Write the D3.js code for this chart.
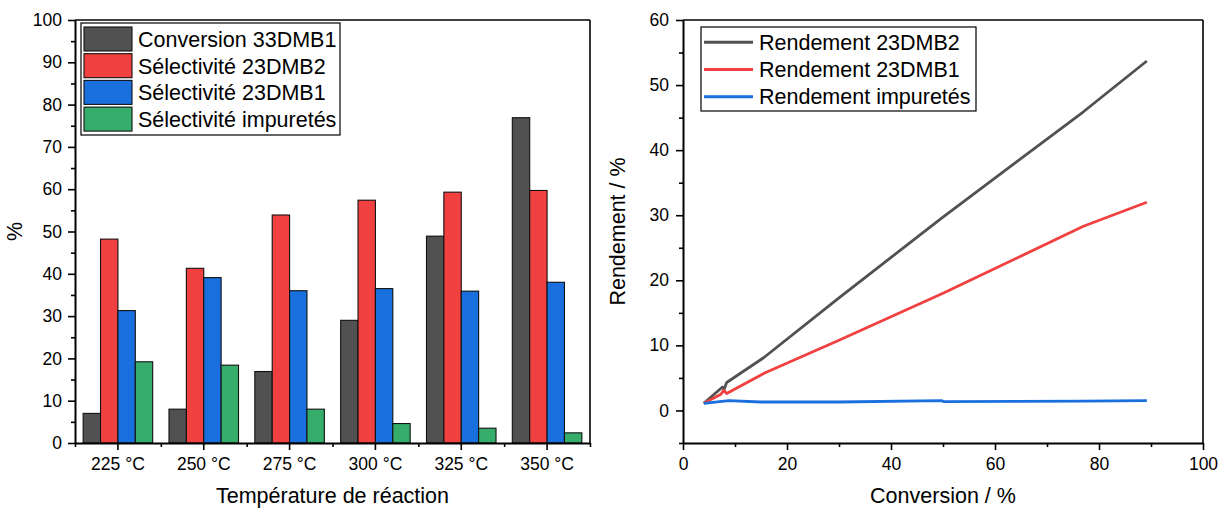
<!DOCTYPE html>
<html>
<head>
<meta charset="utf-8">
<script src="https://cdn.jsdelivr.net/npm/d3@7"></script>
<style>
  html, body { margin: 0; padding: 0; background: #fff; }
  svg { display: block; font-family: "Liberation Sans", Arial, sans-serif; }
</style>
</head>
<body>
<svg id="chart" width="1220" height="508"></svg>
<script>
// ---------- DATA ----------
const categories = ["225 °C", "250 °C", "275 °C", "300 °C", "325 °C", "350 °C"];
const barSeriesNames = ["Conversion 33DMB1", "Sélectivité 23DMB2", "Sélectivité 23DMB1", "Sélectivité impuretés"];
const conversion33DMB1 = [7.0, 8.0, 16.9, 29.0, 48.9, 76.9];
const selectivite23DMB2 = [48.2, 41.3, 53.9, 57.4, 59.3, 59.7];
const selectivite23DMB1 = [31.3, 39.1, 36.0, 36.5, 35.9, 38.0];
const selectiviteImpuretes = [19.2, 18.4, 8.0, 4.6, 3.5, 2.4];
const leftYTicks = [0, 10, 20, 30, 40, 50, 60, 70, 80, 90, 100];

const lineSeriesNames = ["Rendement 23DMB2", "Rendement 23DMB1", "Rendement impuretés"];
const rendement23DMB2 = [[4.0, 1.1], [7.6, 3.6], [7.9, 3.2], [8.4, 4.3], [15.5, 8.1], [30.0, 17.3], [49.8, 29.6], [77.0, 45.9], [89.2, 53.7]];
const rendement23DMB1 = [[4.0, 1.1], [7.3, 2.5], [7.8, 3.1], [8.4, 2.6], [15.8, 5.8], [30.0, 10.8], [50.0, 18.0], [77.0, 28.3], [89.2, 32.0]];
const rendementImpuretes = [[4.0, 1.1], [8.8, 1.5], [15.0, 1.3], [30.0, 1.3], [49.8, 1.5], [50.2, 1.35], [77.0, 1.45], [89.2, 1.5]];
const rightXTicks = [0, 20, 40, 60, 80, 100];
const rightYTicks = [0, 10, 20, 30, 40, 50, 60];

const colors = ["#515151", "#F14040", "#1A6FDF", "#37AD6B"];

// ---------- SETUP ----------
const svg = d3.select("#chart");
const FONT_TICK = 17.5, FONT_TITLE = 21.5;
const yTop = 20, yBottom = 443;

function styleAxis(g) {
  g.select(".domain").attr("stroke", "#000").attr("stroke-width", 2);
  g.selectAll(".tick line").attr("stroke", "#000").attr("stroke-width", 1.6);
  g.selectAll(".tick text").attr("font-size", FONT_TICK).attr("fill", "#000")
    .attr("font-family", "'Liberation Sans', Arial, sans-serif");
}

// ---------- LEFT CHART ----------
const L = { left: 75, right: 590 };
const x0 = d3.scaleBand().domain(categories).range([L.left, L.right]).padding(0);
const groupPad = x0.step() * 0.095;
const x1 = d3.scaleBand().domain(barSeriesNames).range([groupPad, x0.step() - groupPad]).padding(0);
const yL = d3.scaleLinear().domain([0, 100]).range([yBottom, yTop]);

const barValues = [conversion33DMB1, selectivite23DMB2, selectivite23DMB1, selectiviteImpuretes];
const barData = [];
categories.forEach((c, i) => barSeriesNames.forEach((s, j) => barData.push({ c, s, j, v: barValues[j][i] })));

const leftG = svg.append("g");
leftG.selectAll("rect.bar").data(barData).join("rect")
  .attr("class", "bar")
  .attr("x", d => x0(d.c) + x1(d.s))
  .attr("width", x1.bandwidth())
  .attr("y", d => yL(d.v))
  .attr("height", d => yL(0) - yL(d.v))
  .attr("fill", d => colors[d.j])
  .attr("stroke", "#111").attr("stroke-width", 1.1);

// frame top/right
leftG.append("line").attr("x1", L.left).attr("x2", L.right).attr("y1", yTop).attr("y2", yTop)
  .attr("stroke", "#000").attr("stroke-width", 1.6);
leftG.append("line").attr("x1", L.right).attr("x2", L.right).attr("y1", yTop).attr("y2", yBottom)
  .attr("stroke", "#000").attr("stroke-width", 1.6);

// y axis left
const yLMinor = d3.range(5, 100, 10);
leftG.append("g").attr("transform", `translate(${L.left},0)`)
  .call(d3.axisLeft(yL).tickValues(yLMinor).tickSize(4).tickFormat("").tickSizeOuter(0))
  .call(g => { styleAxis(g); g.select(".domain").remove(); });
leftG.append("g").attr("transform", `translate(${L.left},0)`)
  .call(d3.axisLeft(yL).tickValues(leftYTicks).tickSize(7).tickPadding(6).tickSizeOuter(0))
  .call(styleAxis);

// x axis left
const boundaries = categories.map(c => x0(c)).concat([x0(categories[categories.length - 1]) + x0.step()]);
const xBoundScale = d3.scaleIdentity().domain([L.left, L.right]);
leftG.append("g").attr("transform", `translate(0,${yBottom})`)
  .call(d3.axisBottom(xBoundScale).tickValues(boundaries).tickSize(4).tickFormat("").tickSizeOuter(0))
  .call(g => { styleAxis(g); });
leftG.append("g").attr("transform", `translate(0,${yBottom})`)
  .call(d3.axisBottom(x0).tickSize(7).tickPadding(8).tickSizeOuter(0))
  .call(g => { styleAxis(g); g.select(".domain").remove(); });

// titles
leftG.append("text").attr("x", (L.left + L.right) / 2).attr("y", 503)
  .attr("text-anchor", "middle").attr("font-size", FONT_TITLE).text("Température de réaction");
leftG.append("text").attr("transform", `translate(22,${(yTop + yBottom) / 2}) rotate(-90)`)
  .attr("text-anchor", "middle").attr("font-size", FONT_TITLE).text("%");

// legend left
const legL = leftG.append("g").attr("transform", "translate(81,23)");
legL.append("rect").attr("x", 0).attr("y", 0).attr("width", 259).attr("height", 112)
  .attr("fill", "#fff").attr("stroke", "#000").attr("stroke-width", 1.2);
barSeriesNames.forEach((s, j) => {
  const gy = 4 + j * 26.7;
  legL.append("rect").attr("x", 3).attr("y", gy).attr("width", 48).attr("height", 24)
    .attr("fill", colors[j]).attr("stroke", "#111").attr("stroke-width", 1.1);
  legL.append("text").attr("x", 57).attr("y", gy + 20).attr("font-size", FONT_TITLE).text(s);
});

// ---------- RIGHT CHART ----------
const R = { left: 683, right: 1203 };
const xR = d3.scaleLinear().domain([0, 100]).range([R.left, R.right]);
const yR = d3.scaleLinear().domain([-5, 60]).range([yBottom, yTop]);
const rightG = svg.append("g");

rightG.append("line").attr("x1", R.left).attr("x2", R.right).attr("y1", yTop).attr("y2", yTop)
  .attr("stroke", "#000").attr("stroke-width", 1.6);
rightG.append("line").attr("x1", R.right).attr("x2", R.right).attr("y1", yTop).attr("y2", yBottom)
  .attr("stroke", "#000").attr("stroke-width", 1.6);

rightG.append("g").attr("transform", `translate(${R.left},0)`)
  .call(d3.axisLeft(yR).tickValues(d3.range(-5, 60, 10)).tickSize(4).tickFormat("").tickSizeOuter(0))
  .call(g => { styleAxis(g); g.select(".domain").remove(); });
rightG.append("g").attr("transform", `translate(${R.left},0)`)
  .call(d3.axisLeft(yR).tickValues(rightYTicks).tickSize(7).tickPadding(7).tickSizeOuter(0))
  .call(styleAxis);

rightG.append("g").attr("transform", `translate(0,${yBottom})`)
  .call(d3.axisBottom(xR).tickValues(d3.range(10, 100, 20)).tickSize(4).tickFormat("").tickSizeOuter(0))
  .call(g => { styleAxis(g); g.select(".domain").remove(); });
rightG.append("g").attr("transform", `translate(0,${yBottom})`)
  .call(d3.axisBottom(xR).tickValues(rightXTicks).tickSize(7).tickPadding(8).tickSizeOuter(0))
  .call(styleAxis);

const lineGen = d3.line().x(d => xR(d[0])).y(d => yR(d[1]));
const lineData = [rendement23DMB2, rendement23DMB1, rendementImpuretes];
rightG.selectAll("path.series").data(lineData).join("path")
  .attr("class", "series")
  .attr("d", lineGen)
  .attr("fill", "none")
  .attr("stroke", (d, i) => colors[i])
  .attr("stroke-width", 2.8)
  .attr("stroke-linejoin", "round");

rightG.append("text").attr("x", (R.left + R.right) / 2).attr("y", 503)
  .attr("text-anchor", "middle").attr("font-size", FONT_TITLE).text("Conversion / %");
rightG.append("text").attr("transform", `translate(625,${(yTop + yBottom) / 2}) rotate(-90)`)
  .attr("text-anchor", "middle").attr("font-size", FONT_TITLE).text("Rendement / %");

const legR = rightG.append("g").attr("transform", "translate(701,27)");
legR.append("rect").attr("x", 0).attr("y", 0).attr("width", 275).attr("height", 84)
  .attr("fill", "#fff").attr("stroke", "#000").attr("stroke-width", 1.2);
lineSeriesNames.forEach((s, j) => {
  const cy = 15.3 + j * 27.2;
  legR.append("line").attr("x1", 3).attr("x2", 52).attr("y1", cy).attr("y2", cy)
    .attr("stroke", colors[j]).attr("stroke-width", 3);
  legR.append("text").attr("x", 58).attr("y", cy + 7.5).attr("font-size", FONT_TITLE).text(s);
});
</script>
</body>
</html>
